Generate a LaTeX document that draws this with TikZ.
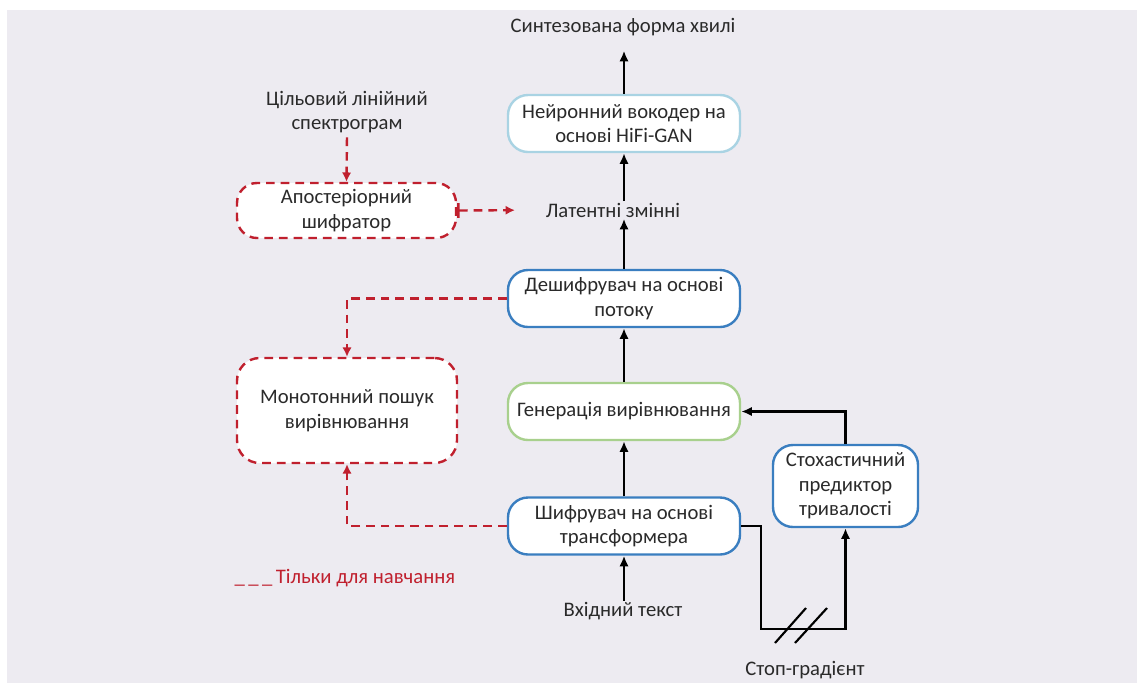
\documentclass[tikz,border=0pt]{standalone}
\usepackage{fontspec}
\setmainfont{Carlito}
\usetikzlibrary{arrows.meta}
\definecolor{bg}{HTML}{EDEBF1}
\definecolor{txt}{HTML}{2A2A2A}
\definecolor{bblue}{HTML}{3A7EC0}
\definecolor{lblue}{HTML}{A9D3E3}
\definecolor{lgreen}{HTML}{A8D08D}
\definecolor{dred}{HTML}{C0202E}
\begin{document}
\begin{tikzpicture}[x=0.75pt,y=-0.75pt,
  font=\fontsize{15.5}{18.5}\selectfont,
  box/.style={draw,line width=1.8pt,fill=white,rounded corners=15pt,
    text=txt,align=center,inner sep=0pt},
  dbox/.style={box,draw=dred,line width=1.8pt,dash pattern=on 6.5pt off 4.5pt},
  lbl/.style={text=txt,align=center,inner sep=1pt},
  arr/.style={line width=1.6pt,-{Latex[length=8pt,width=7pt]}},
  darr/.style={draw=dred,line width=1.8pt,dash pattern=on 6.5pt off 4.5pt,
    -{Latex[length=7pt,width=7pt]}},
  slash/.style={line width=1.6pt}]
\useasboundingbox (0,0) rectangle (1137,683);
\fill[white] (0,0) rectangle (1137,683);
\fill[bg] (7,10) rectangle (1137,683);

% labels
\node[lbl] (out) at (623,27) {Синтезована форма хвилі};
\node[lbl] (lat) at (613,210) {Латентні змінні};
\node[lbl] (inp) at (623,611) {Вхідний текст};
\node[lbl] (stop) at (805,670) {Стоп-градієнт};
\node[lbl] (tgt) at (347,112) {Цільовий лінійний\\спектрограм};
\node[lbl,text=dred,anchor=west] (leg) at (233,578) {\_\,\_\,\_\,Тільки для навчання};

% boxes
\node[box,draw=lblue,minimum width=174pt,minimum height=42.75pt] (voc) at (624,123.5)
  {Нейронний вокодер на\\основі HiFi-GAN};
\node[box,draw=bblue,minimum width=174pt,minimum height=42.75pt] (dec) at (624,298.5)
  {Дешифрувач на основі\\потоку};
\node[box,draw=lgreen,minimum width=174pt,minimum height=42.75pt] (gen) at (624,411.5)
  {Генерація вирівнювання};
\node[box,draw=bblue,minimum width=174pt,minimum height=42.75pt] (enc) at (624,526)
  {Шифрувач на основі\\трансформера};
\node[box,draw=bblue,minimum width=108.75pt,minimum height=61.5pt] (sto) at (845.5,486)
  {Стохастичний\\предиктор\\тривалості};
\node[dbox,minimum width=164.25pt,minimum height=41.25pt] (post) at (346.5,210.5)
  {Апостеріорний\\шифратор};
\node[dbox,minimum width=165pt,minimum height=78.75pt,rounded corners=17pt] (mono) at (347,410.5)
  {Монотонний пошук\\вирівнювання};

% main flow
\draw[arr,shorten >=10pt] (voc.north) -- (voc.north |- out.south);
\draw[arr] (voc.south |- lat.north) -- (voc.south);
\draw[arr] (dec.north) -- (dec.north |- lat.south);
\draw[arr] (gen.north) -- (dec.south);
\draw[arr] (enc.north) -- (gen.south);
\draw[arr] (enc.south |- inp.north) -- (enc.south);
\draw[arr] (sto.north) |- (gen.east);
\coordinate (c1) at (761,629);
\draw[arr] (enc.east) -- (enc.east -| c1) -- (c1) -| (sto.south);
\draw[slash] (775,643) -- (806,608);
\draw[slash] (795,643) -- (827,608);

% training only
\draw[darr,shorten <=2pt] (tgt.south) -- (post.north);
\draw[darr,{Bar[width=11pt]}-{Latex[length=7pt,width=7pt]},shorten >=22pt] (post.east) -- (lat.west);
\draw[darr] (dec.west) -| (mono.north);
\draw[darr] (enc.west) -| (mono.south);
\end{tikzpicture}
\end{document}
